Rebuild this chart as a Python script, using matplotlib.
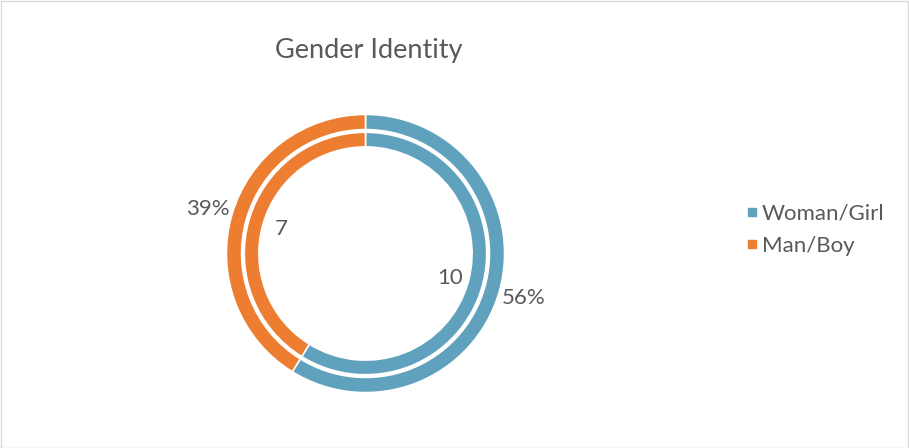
import numpy as np
import matplotlib
matplotlib.use("Agg")
import matplotlib.pyplot as plt
from matplotlib.lines import Line2D
from matplotlib.patches import Rectangle

categories = ["Woman/Girl", "Man/Boy"]
counts = [10, 7]
pct_labels = ["56%", "39%"]
colors = ["#60A2BE", "#ED7D31"]
title = "Gender Identity"

W, H = 909, 448
fig = plt.figure(figsize=(W / 100, H / 100), dpi=100)
ax = fig.add_axes([0, 0, 1, 1])

cx, cy = 365.5, H - 253.5
R = 138.5
font = "Lato"
tcol = "#595959"

# outer ring
ax.pie(counts, colors=colors, startangle=90, counterclock=False,
       radius=R + 0.6, center=(cx, cy), frame=True,
       wedgeprops=dict(width=0.101 * R + 1.2, edgecolor="white", linewidth=1.2))
# inner ring
ax.pie(counts, colors=colors, startangle=90, counterclock=False,
       radius=0.871 * R + 0.6, center=(cx, cy), frame=True,
       wedgeprops=dict(width=0.097 * R + 1.2, edgecolor="white", linewidth=1.2))
ax.set_xlim(0, W)
ax.set_ylim(0, H)
ax.axis("off")

total = sum(counts)
cum = 0
for c, p in zip(counts, pct_labels):
    mid = (cum + c / 2) / total * 2 * np.pi
    cum += c
    sx, cy_ = np.sin(mid), np.cos(mid)
    ax.text(cx + 1.185 * R * sx, cy + 1.185 * R * cy_, p, ha="center", va="center",
            fontsize=16, color=tcol, family=font)
    ax.text(cx + 0.635 * R * sx, cy + 0.635 * R * cy_, str(c), ha="center", va="center",
            fontsize=16, color=tcol, family=font)

ax.text(369, H - 50, title, ha="center", va="center", fontsize=19.5, color=tcol, family=font)

handles = [Line2D([], [], marker="s", linestyle="none", markersize=5.5,
                  markerfacecolor=col, markeredgecolor=col) for col in colors]
leg = fig.legend(handles, categories, loc="center left", bbox_to_anchor=(736.5 / W, 1 - 229.5 / H),
                 frameon=False, handletextpad=0.15, handlelength=0.6, labelspacing=0.55,
                 borderaxespad=0, prop=dict(family=font, size=16))
for t in leg.get_texts():
    t.set_color(tcol)

fig.patches.append(Rectangle((0.5 / W, 0.5 / H), 1 - 1.5 / W, 1 - 1.5 / H, transform=fig.transFigure,
                             fill=False, edgecolor="#D9D9D9", linewidth=1))

fig.savefig("out.png", dpi=100, facecolor="white")
